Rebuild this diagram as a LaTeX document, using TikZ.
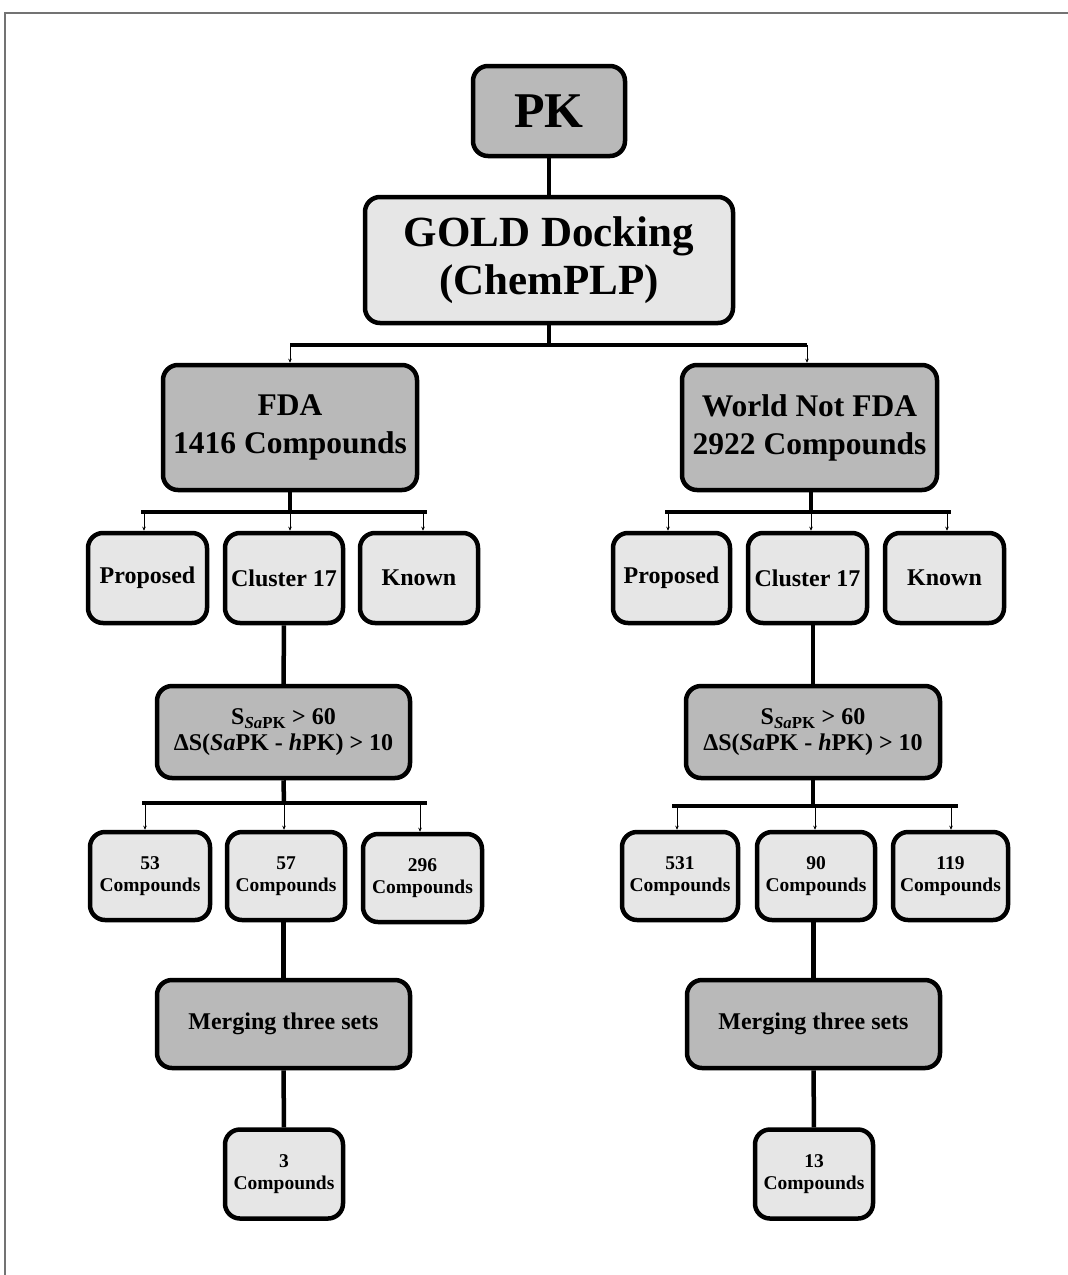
\documentclass[tikz,border=0pt]{standalone}
\usepackage{fontspec}
\setmainfont{Liberation Serif}
\usetikzlibrary{arrows.meta}
\definecolor{darkfill}{HTML}{B9B9B9}
\definecolor{lightfill}{HTML}{E6E6E6}
\begin{document}
\begin{tikzpicture}[x=1pt,y=-1pt,
  box/.style={draw=black, line width=4.5pt, rounded corners=15pt, inner sep=0pt, align=center, font=\bfseries},
  darkbox/.style={box, fill=darkfill},
  lightbox/.style={box, fill=lightfill},
  link/.style={line width=4.5pt},
  busbar/.style={line width=4.5pt},
  thinarrow/.style={line width=0.8pt, -{Stealth[length=4pt,width=3.5pt]}},
  frameline/.style={draw=black!55, line width=1.5pt}
]
\useasboundingbox (0,0) rectangle (1068,1275);
\draw[frameline] (5,1275) -- (5,13) -- (1068,13);

% top
\node[darkbox, minimum width=152pt, minimum height=90pt, font=\bfseries\fontsize{50}{55}\selectfont] (pk) at (549,111) {PK};
\node[lightbox, minimum width=368pt, minimum height=126pt, font=\bfseries\fontsize{43}{48}\selectfont] (gold) at (549,260) {GOLD Docking\\(ChemPLP)};
\node[darkbox, minimum width=254pt, minimum height=125pt, font=\bfseries\fontsize{31.5}{38}\selectfont] (fda) at (290,427.5) {FDA\\1416 Compounds};
\node[darkbox, minimum width=255pt, minimum height=125pt, font=\bfseries\fontsize{31.5}{38}\selectfont] (wnf) at (809.5,427.5) {World Not FDA\\2922 Compounds};

\draw[link] (pk) -- (gold);
\coordinate (tb) at (549,345);
\coordinate (tbl) at (290,345);
\coordinate (tbr) at (807,345);
\draw[link] (gold.south) -- (tb);
\draw[busbar] (tbl) -- (tbr);
\draw[thinarrow] (tbl) -- (tbl |- fda.north);
\draw[thinarrow] (tbr) -- (tbr |- wnf.north);

% ---------- left branch ----------
\tikzset{small/.style={font=\bfseries\fontsize{24}{28}\selectfont}}
\node[lightbox, small, minimum width=119pt, minimum height=90pt] (fprop) at (147.5,578) {Proposed};
\node[lightbox, small, minimum width=118pt, minimum height=90pt] (fclus) at (284,578) {Cluster 17};
\node[lightbox, small, minimum width=118pt, minimum height=90pt] (fknown) at (419,578) {Known};

\coordinate (fb) at (290,512);
\coordinate (fbl) at (141,512);
\coordinate (fbr) at (427,512);
\coordinate (fa1) at (144,512);
\coordinate (fa3) at (423,512);
\draw[link] (fda.south) -- (fb);
\draw[busbar] (fbl) -- (fbr);
\draw[thinarrow] (fa1) -- (fa1 |- fprop.north);
\draw[thinarrow] (fb) -- (fb |- fclus.north);
\draw[thinarrow] (fa3) -- (fa3 |- fknown.north);

\tikzset{score/.style={darkbox, minimum height=92pt, font=\bfseries\fontsize{24}{26}\selectfont}}
\node[score, minimum width=253pt] (fscore) at (283.5,732) {S\textsubscript{\textit{Sa}PK} > 60\\ΔS(\textit{Sa}PK - \textit{h}PK) > 10};
\draw[link] (fclus) -- (fscore);

\tikzset{cmp/.style={lightbox, font=\bfseries\fontsize{19.5}{22}\selectfont, minimum height=88pt}}
\node[cmp, minimum width=120pt] (f53) at (150,876) {53\\Compounds};
\node[cmp, minimum width=118pt] (f57) at (286,876) {57\\Compounds};
\node[cmp, minimum width=119pt] (f296) at (422.5,878) {296\\Compounds};

\coordinate (fsb) at (284,803);
\coordinate (fsbl) at (142,803);
\coordinate (fsbr) at (427,803);
\coordinate (fsa1) at (145,803);
\coordinate (fsa3) at (420,803);
\draw[link] (fscore.south) -- (fsb);
\draw[busbar] (fsbl) -- (fsbr);
\draw[thinarrow] (fsa1) -- (fsa1 |- f53.north);
\draw[thinarrow] (fsb) -- (fsb |- f57.north);
\draw[thinarrow] (fsa3) -- (fsa3 |- f296.north);

\tikzset{merge/.style={darkbox, minimum height=88pt, font=\bfseries\fontsize{24}{26}\selectfont}}
\node[merge, minimum width=253pt] (fmerge) at (283.5,1024) {Merging three sets};
\node[cmp, minimum width=118pt, minimum height=89pt] (f3) at (284,1174) {3\\Compounds};
\draw[link] (f57.south -| fmerge) -- (fmerge.north);
\draw[link] (fmerge) -- (f3);

% ---------- right branch ----------
\node[lightbox, small, minimum width=117pt, minimum height=90pt] (wprop) at (671.5,578) {Proposed};
\node[lightbox, small, minimum width=119pt, minimum height=90pt] (wclus) at (807.5,578) {Cluster 17};
\node[lightbox, small, minimum width=119pt, minimum height=90pt] (wknown) at (944.5,578) {Known};

\coordinate (wb) at (811,512);
\coordinate (wbl) at (665,512);
\coordinate (wbr) at (951,512);
\coordinate (wa1) at (668,512);
\coordinate (wa3) at (947,512);
\draw[link] (wnf.south -| wb) -- (wb);
\draw[busbar] (wbl) -- (wbr);
\draw[thinarrow] (wa1) -- (wa1 |- wprop.north);
\draw[thinarrow] (wb) -- (wb |- wclus.north);
\draw[thinarrow] (wa3) -- (wa3 |- wknown.north);

\node[score, minimum width=254pt] (wscore) at (813,732) {S\textsubscript{\textit{Sa}PK} > 60\\ΔS(\textit{Sa}PK - \textit{h}PK) > 10};
\draw[link] (wclus.south -| wscore) -- (wscore.north);

\node[cmp, minimum width=116pt] (w531) at (680,876) {531\\Compounds};
\node[cmp, minimum width=118pt] (w90) at (816,876) {90\\Compounds};
\node[cmp, minimum width=115pt] (w119) at (950.5,876) {119\\Compounds};

\coordinate (wsb) at (813,806);
\coordinate (wsbl) at (672,806);
\coordinate (wsbr) at (958,806);
\coordinate (wsa1) at (677,806);
\coordinate (wsa2) at (815,806);
\coordinate (wsa3) at (951,806);
\draw[link] (wscore.south) -- (wsb);
\draw[busbar] (wsbl) -- (wsbr);
\draw[thinarrow] (wsa1) -- (wsa1 |- w531.north);
\draw[thinarrow] (wsa2) -- (wsa2 |- w90.north);
\draw[thinarrow] (wsa3) -- (wsa3 |- w119.north);

\node[merge, minimum width=253pt] (wmerge) at (813.5,1024) {Merging three sets};
\node[cmp, minimum width=118pt, minimum height=89pt] (w13) at (814,1174) {13\\Compounds};
\draw[link] (w90.south -| wmerge) -- (wmerge.north);
\draw[link] (wmerge) -- (w13);
\end{tikzpicture}
\end{document}
